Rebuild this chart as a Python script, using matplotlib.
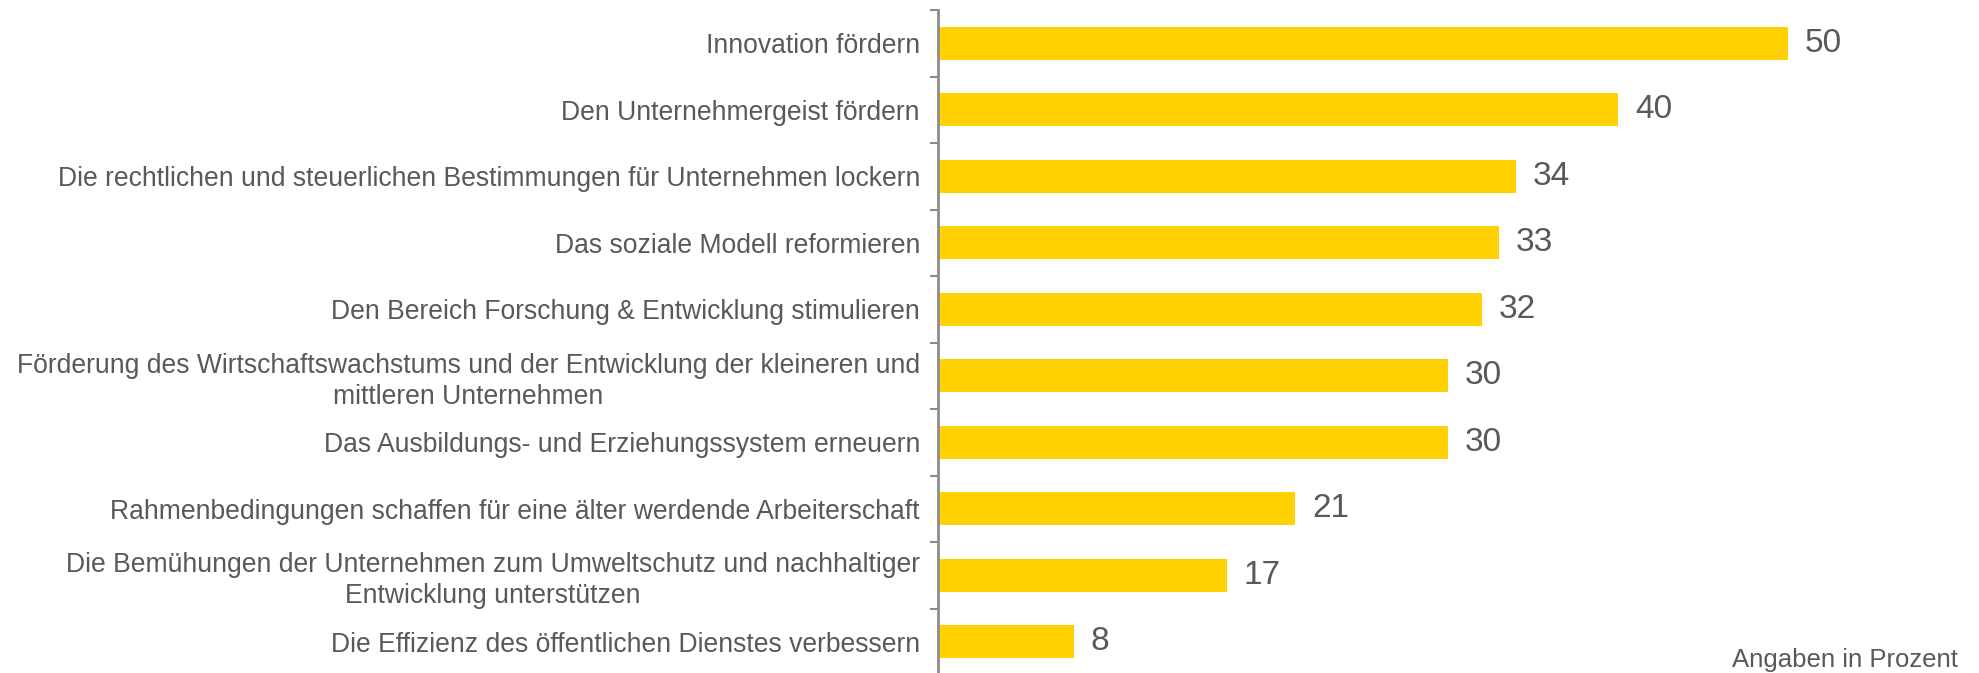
import matplotlib.pyplot as plt

categories = [
    "Innovation fördern",
    "Den Unternehmergeist fördern",
    "Die rechtlichen und steuerlichen Bestimmungen für Unternehmen lockern",
    "Das soziale Modell reformieren",
    "Den Bereich Forschung & Entwicklung stimulieren",
    "Förderung des Wirtschaftswachstums und der Entwicklung der kleineren und\nmittleren Unternehmen",
    "Das Ausbildungs- und Erziehungssystem erneuern",
    "Rahmenbedingungen schaffen für eine älter werdende Arbeiterschaft",
    "Die Bemühungen der Unternehmen zum Umweltschutz und nachhaltiger\nEntwicklung unterstützen",
    "Die Effizienz des öffentlichen Dienstes verbessern",
]
values = [50, 40, 34, 33, 32, 30, 30, 21, 17, 8]

bar_color = "#FFD100"
text_color = "#595959"
axis_color = "#8C8C8C"

plt.rcParams['font.family'] = ['Liberation Sans', 'DejaVu Sans']

W, H = 1979, 673
fig = plt.figure(figsize=(W / 100, H / 100), dpi=100)
# axes placed in pixels: left edge at x=938, top at y=10, bottom just below the figure
left, top, bottom = 938, 10, 675
ax = fig.add_axes([left / W, (H - bottom) / H, 1 - left / W, (bottom - top) / H])

pos = list(range(len(categories)))
ax.barh(pos, values, height=0.5, color=bar_color)
ax.set_ylim(len(categories) - 0.5, -0.5)
ax.set_xlim(0, (W - left) / 17)

for p, v in zip(pos, values):
    ax.text(v + 1.0, p, str(v), va='center', ha='left', fontsize=24, color=text_color)

ax.set_yticks(pos)
ax.set_yticklabels(categories, fontsize=19.1, color=text_color, linespacing=1.25)
for lbl in ax.get_yticklabels():
    lbl.set_multialignment('center')
ax.tick_params(axis='y', which='major', length=0, pad=13)
# minor ticks at the category boundaries
ax.set_yticks([p - 0.5 for p in pos] + [len(pos) - 0.5], minor=True)
ax.tick_params(axis='y', which='minor', length=6, width=1.5, color=axis_color)

ax.set_xticks([])
for side in ['top', 'right', 'bottom']:
    ax.spines[side].set_visible(False)
ax.spines['left'].set_color(axis_color)
ax.spines['left'].set_linewidth(2)

fig.text(1958 / W, 1 - 667 / H, "Angaben in Prozent", ha='right', va='baseline',
         fontsize=18.5, color=text_color)

plt.savefig('out.png', dpi=100)
